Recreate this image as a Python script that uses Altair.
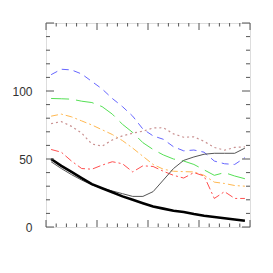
import altair as alt
import pandas as pd

x_vals = [0.5 + i for i in range(20)]

blue = [112, 116, 115.5, 112.5, 107, 101.5, 94.5, 88.5, 81.5, 72, 67, 64.5, 59, 56, 56.6, 55, 48.5, 46.5, 46, 51]
green = [94.5, 94.3, 94, 92.5, 91.5, 88.5, 83, 75.5, 69.5, 62, 57, 53, 50, 48.5, 46, 42, 38, 40, 37.5, 35.5]
orange = [81.5, 83, 81, 78, 75, 71.5, 68, 63.5, 58, 52, 46, 42.5, 41, 40.7, 40.5, 38, 33, 32, 30.5, 30]
pink = [76, 77.5, 74, 69, 61, 59.5, 64, 67, 69, 70.5, 72.8, 73, 68.5, 66, 66.3, 63, 58.5, 56.5, 58.5, 59]
red = [57, 55, 48.5, 43, 42.5, 45.5, 48, 46.5, 40.5, 45, 44.5, 41, 38, 36, 40, 37.5, 21, 26, 21, 21]
gray = [48, 43, 38.5, 34.5, 31, 28.5, 26.5, 24.5, 22.5, 22.5, 26, 34.5, 43, 49, 51.5, 53.5, 54.2, 54.2, 54.2, 58]
black = [50, 45, 40.5, 36, 31.5, 28.5, 25.5, 22.5, 20, 17.5, 15, 13.5, 12, 11, 9.5, 8.3, 7.3, 6.4, 5.5, 4.6]

series = [
    ("blue", blue, "#6666ff", [7, 5], 1),
    ("green", green, "#55e055", [18, 7], 1),
    ("orange", orange, "#ffb850", [7, 3, 2, 3], 1),
    ("pink", pink, "#c99090", [2, 3], 1.2),
    ("red", red, "#ff5050", [8, 3, 2, 3], 1),
    ("gray", gray, "#555555", None, 1),
    ("black", black, "#000000", None, 2.6),
]

x_major = [0, 5, 10, 15, 20]
x_minor = [v for v in range(21) if v % 5 != 0]
y_major = [0, 50, 100, 150]
y_minor = [v for v in range(0, 151, 10) if v % 50 != 0]

W, H = 204, 204
xs = alt.Scale(domain=[0, 20], nice=False)
ys = alt.Scale(domain=[0, 150], nice=False)

xaxis = alt.Axis(labels=False, ticks=False, domain=False, grid=False, title=None)
yaxis = alt.Axis(values=[0, 50, 100], ticks=False, domain=False, grid=False,
                 title=None, labelPadding=14, labelFontSize=12,
                 labelColor="#333", labelFont="Liberation Sans")

line_layers = []
for name, vals, col, dash, w in series:
    d = pd.DataFrame({"x": x_vals, "y": vals})
    kw = dict(color=col, strokeWidth=w)
    if dash is not None:
        kw["strokeDash"] = dash
    line_layers.append(
        alt.Chart(d).mark_line(**kw).encode(
            x=alt.X("x:Q", scale=xs, axis=xaxis),
            y=alt.Y("y:Q", scale=ys, axis=yaxis),
        )
    )

def xticks(vals, length):
    d = pd.DataFrame({"t": vals})
    b = alt.Chart(d).mark_rule(color="#555", strokeWidth=1).encode(
        x=alt.X("t:Q", scale=xs), y=alt.value(H), y2=alt.value(H - length))
    t = alt.Chart(d).mark_rule(color="#555", strokeWidth=1).encode(
        x=alt.X("t:Q", scale=xs), y=alt.value(0), y2=alt.value(length))
    return [b, t]

def yticks(vals, length):
    d = pd.DataFrame({"t": vals})
    l = alt.Chart(d).mark_rule(color="#555", strokeWidth=1).encode(
        y=alt.Y("t:Q", scale=ys), x=alt.value(0), x2=alt.value(length))
    r = alt.Chart(d).mark_rule(color="#555", strokeWidth=1).encode(
        y=alt.Y("t:Q", scale=ys), x=alt.value(W), x2=alt.value(W - length))
    return [l, r]

layers = line_layers + xticks(x_major, 7) + xticks(x_minor, 3.5) + yticks(y_major, 8) + yticks(y_minor, 4)

chart = alt.layer(*layers).properties(
    width=W, height=H,
    autosize=alt.AutoSizeParams(type="none"),
    padding={"left": 38, "top": 15, "right": 15, "bottom": 38},
).configure_view(stroke="#333", strokeWidth=1.2).configure(background="white")

chart.save("out.html", embed_options={"renderer": "svg", "actions": False})
